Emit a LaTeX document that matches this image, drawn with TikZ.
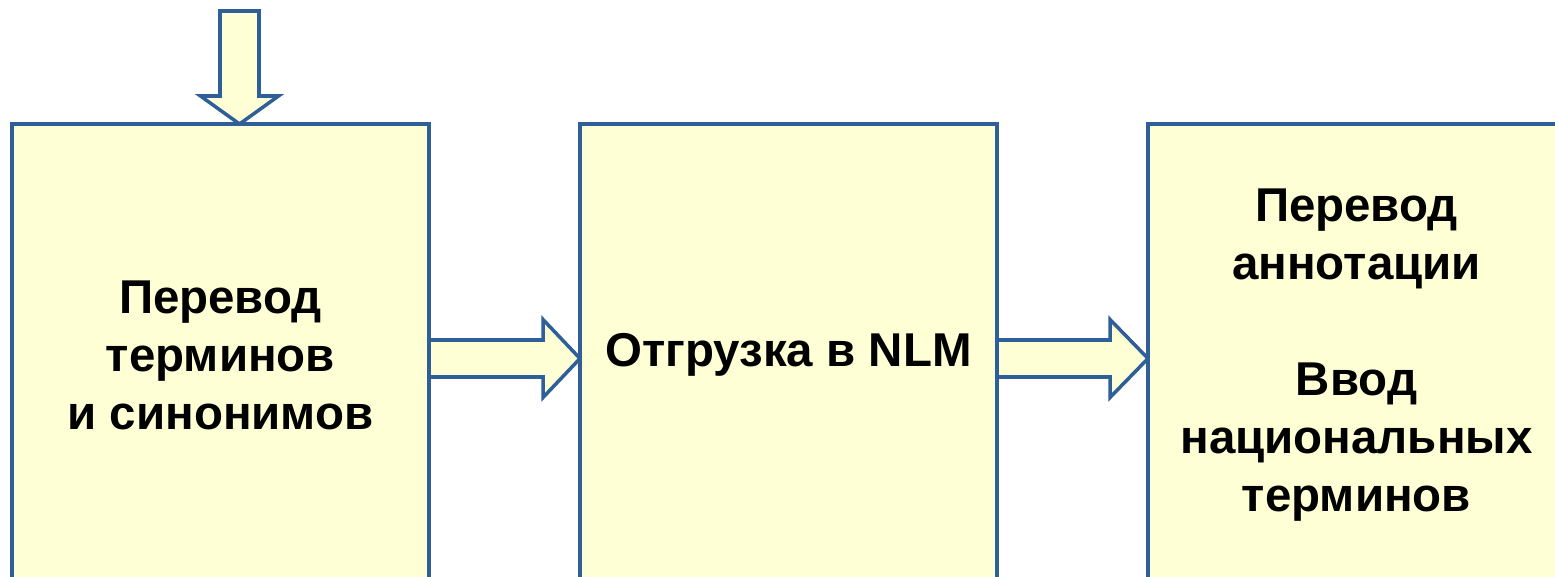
\documentclass[tikz,border=0pt]{standalone}
\usepackage{fontspec}
\setmainfont{Liberation Sans}
\usetikzlibrary{positioning,calc,backgrounds}
\definecolor{boxfill}{RGB}{255,255,214}
\definecolor{boxline}{RGB}{47,95,152}

\begin{document}
\begin{tikzpicture}[node distance=3.02cm,
 box/.style={draw=boxline,fill=boxfill,line width=2pt,align=center,outer sep=0pt,
  minimum width=8.34cm,minimum height=9.24cm,inner sep=0pt,
  font=\fontsize{27}{33}\selectfont\bfseries},
 blockarrow/.style={draw=boxline,fill=boxfill,line width=2pt,line join=miter}]
\useasboundingbox (0,0) rectangle (31.1,-11.52);
\node[box] (a) at (4.41,-7.1) {Перевод\\терминов\\и синонимов};
\node[box,right=of a] (b) {Отгрузка в NLM};
\node[box,right=of b] (c) {Перевод\\аннотации\\[33pt]Ввод\\национальных\\терминов};
\coordinate (intip) at ($(a.north)+(0.38,0)$);
\coordinate (intop) at ($(intip)+(0,2.26)$);
\begin{scope}[on background layer]
\draw[blockarrow] ($(intop)+(-0.39,0)$) -- ($(intip)+(-0.39,0.56)$) -- ($(intip)+(-0.78,0.56)$)
 -- (intip) -- ($(intip)+(0.78,0.56)$) -- ($(intip)+(0.39,0.56)$) -- ($(intop)+(0.39,0)$) -- cycle;
\draw[blockarrow] ($(a.east)+(0,0.30)$) -- ($(b.west)+(-0.74,0.30)$) -- ($(b.west)+(-0.74,0.71)$)
 -- ($(b.west)+(0,-0.07)$) -- ($(b.west)+(-0.74,-0.85)$) -- ($(b.west)+(-0.74,-0.44)$) -- ($(a.east)+(0,-0.44)$);
\draw[blockarrow] ($(b.east)+(0,0.30)$) -- ($(c.west)+(-0.76,0.30)$) -- ($(c.west)+(-0.76,0.71)$)
 -- ($(c.west)+(0,-0.07)$) -- ($(c.west)+(-0.76,-0.85)$) -- ($(c.west)+(-0.76,-0.44)$) -- ($(b.east)+(0,-0.44)$);
\end{scope}
\end{tikzpicture}
\end{document}
